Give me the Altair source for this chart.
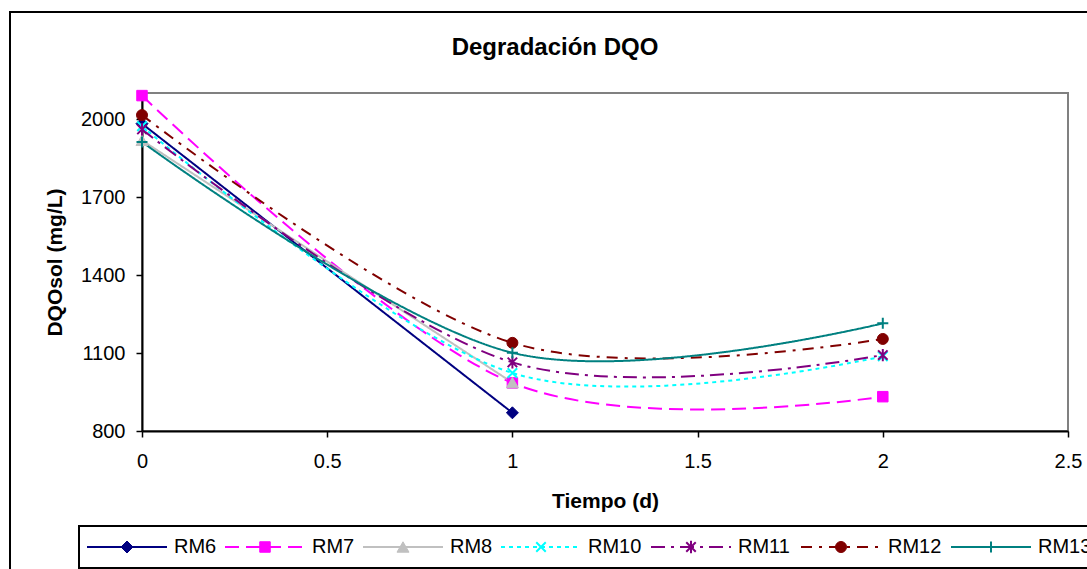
import altair as alt
import pandas as pd

FONT = "Liberation Sans"

# ---- data ----
series = ["RM6", "RM7", "RM8", "RM10", "RM11", "RM12", "RM13"]
tiempo = [0, 1, 2]
rm6 = [1982, 870, None]
rm7 = [2090, 985, 932]
rm8 = [1918, 986, None]
rm10 = [1972, 1023, 1087]
rm11 = [1960, 1064, 1092]
rm12 = [2015, 1139, 1154]
rm13 = [1912, 1101, 1214]
values = {"RM6": rm6, "RM7": rm7, "RM8": rm8, "RM10": rm10,
          "RM11": rm11, "RM12": rm12, "RM13": rm13}

x_ticks = [0, 0.5, 1, 1.5, 2, 2.5]
y_ticks = [800, 1100, 1400, 1700, 2000]

# ---- styles ----
colors = ["#000080", "#FF00FF", "#C0C0C0", "#00FFFF", "#800080", "#800000", "#008080"]
dashes = [[1, 0], [14, 7], [1, 0], [4, 4], [14, 6, 3, 6], [11, 7, 3, 7], [1, 0]]
shapes = ["diamond", "square", "triangle-up",
          "M-1,-1L1,1M-1,1L1,-1",
          "M-1,-1L1,1M-1,1L1,-1M0,-1.3L0,1.3",
          "circle",
          "M-1.1,0L1.1,0M0,-1.1L0,1.1"]
sizes = [144, 110, 144, 90, 90, 121, 100]
mwidths = [1, 1, 1, 2, 2, 1, 2]

rows = []
for s in series:
    for t, v in zip(tiempo, values[s]):
        if v is not None:
            rows.append({"serie": s, "tiempo": t, "dqo": v})
df = pd.DataFrame(rows)

color_scale = alt.Scale(domain=series, range=colors)
dash_scale = alt.Scale(domain=series, range=dashes)
shape_scale = alt.Scale(domain=series, range=shapes)
size_scale = alt.Scale(type="ordinal", domain=series, range=sizes)
mw_scale = alt.Scale(type="ordinal", domain=series, range=mwidths)

axis_common = dict(labelFont=FONT, labelFontSize=20, labelColor="black",
                   titleFont=FONT, titleFontSize=21, titleFontWeight="bold",
                   titleColor="black", domainColor="black", domainWidth=2,
                   tickColor="black", tickWidth=1.5, tickSize=6, grid=False,
                   labelFlush=False)

x_enc = alt.X("tiempo:Q", scale=alt.Scale(domain=[0, 2.5], nice=False),
              axis=alt.Axis(values=x_ticks, format="~g", title="Tiempo (d)",
                            labelPadding=14, titlePadding=19, **axis_common))
y_enc = alt.Y("dqo:Q", scale=alt.Scale(domain=[800, 2100], nice=False),
              axis=alt.Axis(values=y_ticks, format="d", title="DQOsol (mg/L)",
                            labelPadding=11, titlePadding=15, **axis_common))

lines = alt.Chart(df).mark_line(interpolate="cardinal", tension=0, strokeWidth=2).encode(
    x=x_enc, y=y_enc,
    color=alt.Color("serie:N", scale=color_scale, legend=None),
    strokeDash=alt.StrokeDash("serie:N", scale=dash_scale, legend=None),
)
points = alt.Chart(df).mark_point(filled=True, opacity=1).encode(
    x=x_enc, y=y_enc,
    fill=alt.Fill("serie:N", scale=color_scale, legend=None),
    stroke=alt.Stroke("serie:N", scale=color_scale, legend=None),
    shape=alt.Shape("serie:N", scale=shape_scale, legend=None),
    size=alt.Size("serie:N", scale=size_scale, legend=None),
    strokeWidth=alt.StrokeWidth("serie:N", scale=mw_scale, legend=None),
)
main = alt.layer(lines, points)

# ---- legend (page-pixel scales) ----
leg_rows = []
text_x = 174
for s in series:
    leg_rows.append({"serie": s, "lx0": text_x - 87, "lx1": text_x - 7,
                     "lxm": text_x - 47, "ltx": text_x, "ly": 547})
    text_x += 12 * len(s) + 102
leg = pd.DataFrame(leg_rows)

page_x = alt.Scale(domain=[0, 1087], range=[-142, 945], nice=False)
page_y = alt.Scale(domain=[0, 569], range=[-93, 476], nice=False)

one = alt.Data(values=[{"k": 0}])
frame = alt.Chart(one).mark_rect(fillOpacity=0, stroke="black", strokeWidth=2).encode(
    x=alt.value(10 - 142), y=alt.value(12 - 93), x2=alt.value(1100 - 142), y2=alt.value(590 - 93))
leg_box = alt.Chart(one).mark_rect(fill="white", stroke="black", strokeWidth=2).encode(
    x=alt.value(79 - 142), y=alt.value(526 - 93), x2=alt.value(1100 - 142), y2=alt.value(568 - 93))
title = alt.Chart(one).mark_text(text="Degradación DQO", font=FONT, fontSize=24,
                                 fontWeight="bold", align="center", baseline="alphabetic",
                                 color="black").encode(
    x=alt.value(555 - 142), y=alt.value(55 - 93))

leg_rule = alt.Chart(leg).mark_rule(strokeWidth=2).encode(
    x=alt.X("lx0:Q", scale=page_x, axis=None), x2="lx1:Q",
    y=alt.Y("ly:Q", scale=page_y, axis=None),
    color=alt.Color("serie:N", scale=color_scale, legend=None),
    strokeDash=alt.StrokeDash("serie:N", scale=dash_scale, legend=None),
)
leg_pts = alt.Chart(leg).mark_point(filled=True, opacity=1).encode(
    x=alt.X("lxm:Q", scale=page_x, axis=None),
    y=alt.Y("ly:Q", scale=page_y, axis=None),
    fill=alt.Fill("serie:N", scale=color_scale, legend=None),
    stroke=alt.Stroke("serie:N", scale=color_scale, legend=None),
    shape=alt.Shape("serie:N", scale=shape_scale, legend=None),
    size=alt.Size("serie:N", scale=size_scale, legend=None),
    strokeWidth=alt.StrokeWidth("serie:N", scale=mw_scale, legend=None),
)
leg_txt = alt.Chart(leg).mark_text(align="left", baseline="middle", font=FONT,
                                   fontSize=20, color="black").encode(
    x=alt.X("ltx:Q", scale=page_x, axis=None),
    y=alt.Y("ly:Q", scale=page_y, axis=None),
    text="serie:N",
)
page = alt.layer(frame, leg_box, title, leg_rule, leg_pts, leg_txt)

chart = alt.layer(main, page).resolve_scale(
    x="independent", y="independent"
).properties(
    width=926, height=338,
    padding={"left": 142, "top": 93, "right": 19, "bottom": 138},
    autosize=alt.AutoSizeParams(type="none"),
).configure_view(stroke="#808080", strokeWidth=2)

chart.save("out.html", embed_options={"renderer": "svg", "actions": False})
